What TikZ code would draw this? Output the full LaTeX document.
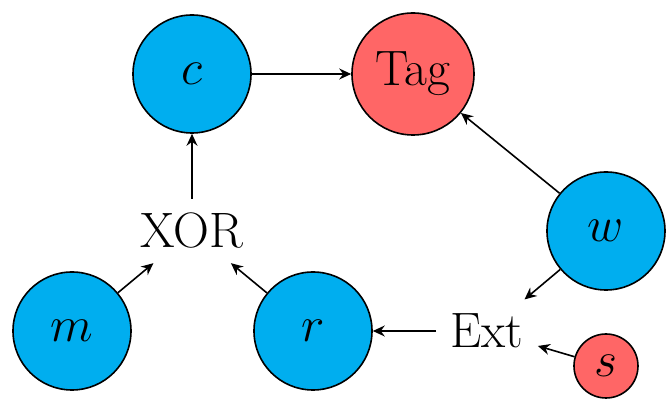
\documentclass[tikz,border=0pt]{standalone}
\usetikzlibrary{arrows.meta}
\definecolor{cblue}{RGB}{0,174,239}
\definecolor{cred}{RGB}{255,102,102}
\begin{document}
\begin{tikzpicture}[x=0.5pt,y=-0.5pt,
  every node/.style={font=\Huge},
  bnode/.style={circle,draw,line width=0.8pt,fill=cblue,minimum size=59pt,inner sep=0pt},
  rnode/.style={circle,draw,line width=0.8pt,fill=cred,minimum size=59pt,inner sep=0pt},
  tnode/.style={inner sep=7pt},
  arr/.style={-{Stealth[length=6pt,width=5.5pt,inset=2pt]},line width=0.8pt}]
\useasboundingbox (0,0) rectangle (666,400);
\node[bnode] (c) at (192,74) {$c$};
\node[rnode,minimum size=61pt] (tag) at (413,74) {Tag};
\node[bnode] (w) at (606,231) {$w$};
\node[tnode] (xor) at (192,231) {XOR};
\node[bnode] (m) at (72,331) {$m$};
\node[bnode] (r) at (313,331) {$r$};
\node[tnode] (ext) at (487,331) {Ext};
\node[rnode,minimum size=32pt] (s) at (606,366) {$s$};
\draw[arr] (c) -- (tag);
\draw[arr] (w) -- (tag);
\draw[arr] (w) -- (ext);
\draw[arr] (ext) -- (r);
\draw[arr] (s) -- (ext);
\draw[arr] (r) -- (xor);
\draw[arr] (m) -- (xor);
\draw[arr] (xor) -- (c);
\end{tikzpicture}
\end{document}
